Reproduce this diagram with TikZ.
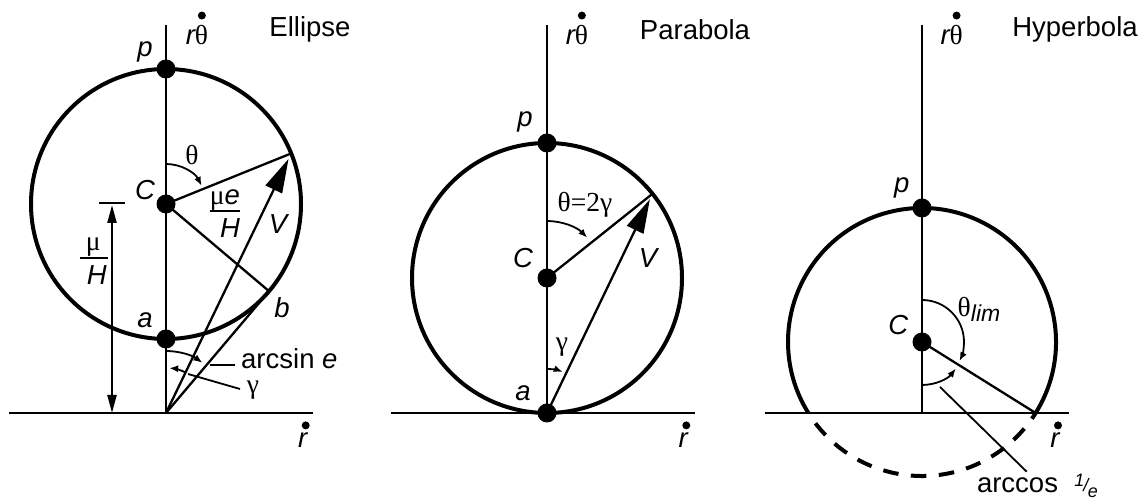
\documentclass[tikz,border=0pt]{standalone}
\usepackage{fontspec}
\setmainfont{Liberation Sans}
\newfontfamily\gk{Liberation Serif}
\usetikzlibrary{arrows.meta,calc}
\begin{document}
\begin{tikzpicture}[x=1pt,y=1pt,
  axisline/.style={line width=2.3pt},
  orbit/.style={line width=4pt},
  seg/.style={line width=2.3pt},
  lead/.style={line width=1.8pt},
  vel/.style={line width=2.3pt,-{Triangle[length=34pt,width=18pt]},shorten >=6pt},
  ang/.style={line width=1.8pt,-{Latex[length=9pt,width=7pt]}},
  dimline/.style={line width=2.3pt,{Triangle[length=18pt,width=9pt]}-{Triangle[length=18pt,width=9pt]}},
  dotn/.style={circle,fill=black,inner sep=0pt,minimum size=19pt},
  lbl/.style={inner sep=0pt,font=\fontsize{27.5}{30}\selectfont},
  ilbl/.style={inner sep=0pt,font=\fontsize{27.5}{30}\selectfont\itshape},
  glbl/.style={inner sep=0pt,font=\fontsize{27.5}{30}\selectfont\gk},
  tdot/.style={fill=black},
]
\useasboundingbox (0,0) rectangle (1146,502);

% ================= Ellipse =================
\coordinate (O1) at (166,89);
\coordinate (T1) at (166,477);
\coordinate (L1) at (9,89);
\coordinate (R1) at (313,89);
\coordinate (C1c) at (166,298);
\coordinate (p1c) at (166,433);
\coordinate (a1c) at (166,163);
\coordinate (Q1) at ($(C1c)+(22:135)$);
\coordinate (B1) at ($(C1c)+(-40.24:135)$);
\coordinate (D1b) at (112,89);
\coordinate (D1t) at (112,297);
\coordinate (D1l) at (99,298.7);
\coordinate (D1r) at (125,298.7);

\draw[axisline] (L1) -- (R1);
\draw[axisline] (O1) -- (T1);
\draw[orbit] (C1c) circle (135);
\draw[seg] (C1c) -- (Q1);
\draw[seg] (C1c) -- (B1);
\draw[seg] (O1) -- (B1);
\draw[vel] (O1) -- (Q1);
\draw[ang] ($(C1c)+(90:40)$) arc[start angle=90,end angle=27,radius=40];
\draw[ang] ($(O1)+(90:62)$) arc[start angle=90,end angle=54,radius=62];
\draw[ang] ($(O1)+(64:45)$) arc[start angle=64,end angle=86,radius=45];
\draw[dimline] (D1b) -- (D1t);
\draw[seg] (D1l) -- (D1r);

\coordinate (LA1a) at (210,137);
\coordinate (LA1b) at (235,137);
\coordinate (LG1a) at (188,128);
\coordinate (LG1b) at (240,113);
\draw[lead] (LA1a) -- (LA1b);
\draw[lead] (LG1a) -- (LG1b);

% mu/H fraction bar
\coordinate (F1l) at (80,243.7);
\coordinate (F1r) at (108,243.7);
\draw[line width=2pt] (F1l) -- (F1r);
% mu e / H fraction bar
\coordinate (F2l) at (210,291.3);
\coordinate (F2r) at (240,291.3);
\draw[line width=2pt] (F2l) -- (F2r);

\node[dotn] (p1) at (p1c) {};
\node[dotn] (C1) at (C1c) {};
\node[dotn] (a1) at (a1c) {};

\node[ilbl] (lp1) at (145,450) {p};
\node[ilbl] (lC1) at (145,312) {C};
\node[ilbl] (la1) at (145,182) {a};
\node[ilbl] (lb1) at (282,194) {b};
\node[glbl] (lth1) at (192,347) {θ};
\node[ilbl] (lV1) at (278,278) {V};
\node[lbl] (lrt1) at (197,467) {{\itshape r}{\gk θ}};
\fill[tdot] ($(lrt1.north east)+(-6.5,9.5)$) circle (4);
\node[lbl] (ttl1) at (310,472.7) {Ellipse};
\node[ilbl] (lrd1) at (302.7,62) {r};
\fill[tdot] ($(lrd1.north)+(3,7)$) circle (4);
\node[lbl,anchor=west] (las1) at (241,143) {arcsin {\itshape e}};
\node[glbl] (lg1) at (253,111.5) {γ};
\node[glbl] (lmu1) at (93.3,255) {μ};
\node[ilbl] (lH1) at (96.7,227) {H};
\node[lbl] (lmue1) at (225,302) {{\gk μ}{\itshape e}};
\node[ilbl] (lH2) at (230,273.7) {H};

% ================= Parabola =================
\coordinate (O2) at (547,89);
\coordinate (T2) at (547,477);
\coordinate (L2) at (391,89);
\coordinate (R2) at (695,89);
\coordinate (C2c) at (547,224);
\coordinate (p2c) at (547,359);
\coordinate (Q2) at ($(C2c)+(38.6:135)$);

\draw[axisline] (L2) -- (R2);
\draw[axisline] (O2) -- (T2);
\draw[orbit] (C2c) circle (135);
\draw[seg] (C2c) -- (Q2);
\draw[vel] (O2) -- (Q2);
\draw[ang] ($(C2c)+(90:57)$) arc[start angle=90,end angle=45,radius=57];
\draw[ang] ($(O2)+(90:44)$) arc[start angle=90,end angle=69,radius=44];

\node[dotn] (p2) at (p2c) {};
\node[dotn] (C2) at (C2c) {};
\node[dotn] (a2) at (O2) {};

\node[ilbl] (lp2) at (525,380) {p};
\node[ilbl] (lC2) at (523,244) {C};
\node[ilbl] (la2) at (523,109) {a};
\node[glbl] (lth2) at (585,297) {θ=2γ};
\node[ilbl] (lV2) at (648,244) {V};
\node[glbl] (lg2) at (562,155) {γ};
\node[lbl] (lrt2) at (577,467) {{\itshape r}{\gk θ}};
\fill[tdot] ($(lrt2.north east)+(-6.5,9.5)$) circle (4);
\node[lbl] (ttl2) at (695,472.7) {Parabola};
\node[ilbl] (lrd2) at (683.3,62) {r};
\fill[tdot] ($(lrd2.north)+(3,7)$) circle (4);

% ================= Hyperbola =================
\coordinate (O3) at (922,89);
\coordinate (T3) at (922,477);
\coordinate (L3) at (765,89);
\coordinate (R3) at (1069,89);
\coordinate (C3c) at (922,160);
\coordinate (p3c) at (922,294);
\coordinate (X3r) at ($(C3c)+(-32:134)$);
\coordinate (X3l) at ($(C3c)+(212:134)$);

\draw[axisline] (L3) -- (R3);
\draw[axisline] (O3) -- (T3);
\draw[orbit] (X3r) arc[start angle=-32,end angle=212,radius=134];
\draw[orbit,dash pattern=on 15.5pt off 12.5pt,dash phase=15.5pt] (X3l) arc[start angle=212,end angle=328,radius=134];
\draw[seg] (C3c) -- (X3r);
\draw[ang] ($(C3c)+(90:42)$) arc[start angle=90,end angle=-27,radius=42];
\draw[ang] ($(C3c)+(-90:43)$) arc[start angle=-90,end angle=-38,radius=43];
\coordinate (LC3a) at (940,115);
\coordinate (LC3b) at (1026.7,30.3);
\draw[lead] (LC3a) -- (LC3b);

\node[dotn] (p3) at (p3c) {};
\node[dotn] (C3) at (C3c) {};

\node[ilbl] (lp3) at (901.7,313.7) {p};
\node[ilbl] (lC3) at (898.3,177) {C};
\node[lbl] (lth3) at (979,193) {{\gk θ}{\itshape\fontsize{23}{25}\selectfont\raisebox{-5pt}{lim}}};
\node[lbl] (lrt3) at (951.7,467) {{\itshape r}{\gk θ}};
\fill[tdot] ($(lrt3.north east)+(-6.5,9.5)$) circle (4);
\node[lbl] (ttl3) at (1075,472.7) {Hyperbola};
\node[ilbl] (lrd3) at (1055,62) {r};
\fill[tdot] ($(lrd3.north)+(3,7)$) circle (4);
\node[lbl] (lac3) at (1017.5,17) {arccos};
\node[lbl] (lie3) at (1086,16) {\itshape\fontsize{18}{18}\selectfont\raisebox{5pt}{1}\kern-1pt/\kern-0.5pt\raisebox{-6pt}{e}};
\end{tikzpicture}
\end{document}
